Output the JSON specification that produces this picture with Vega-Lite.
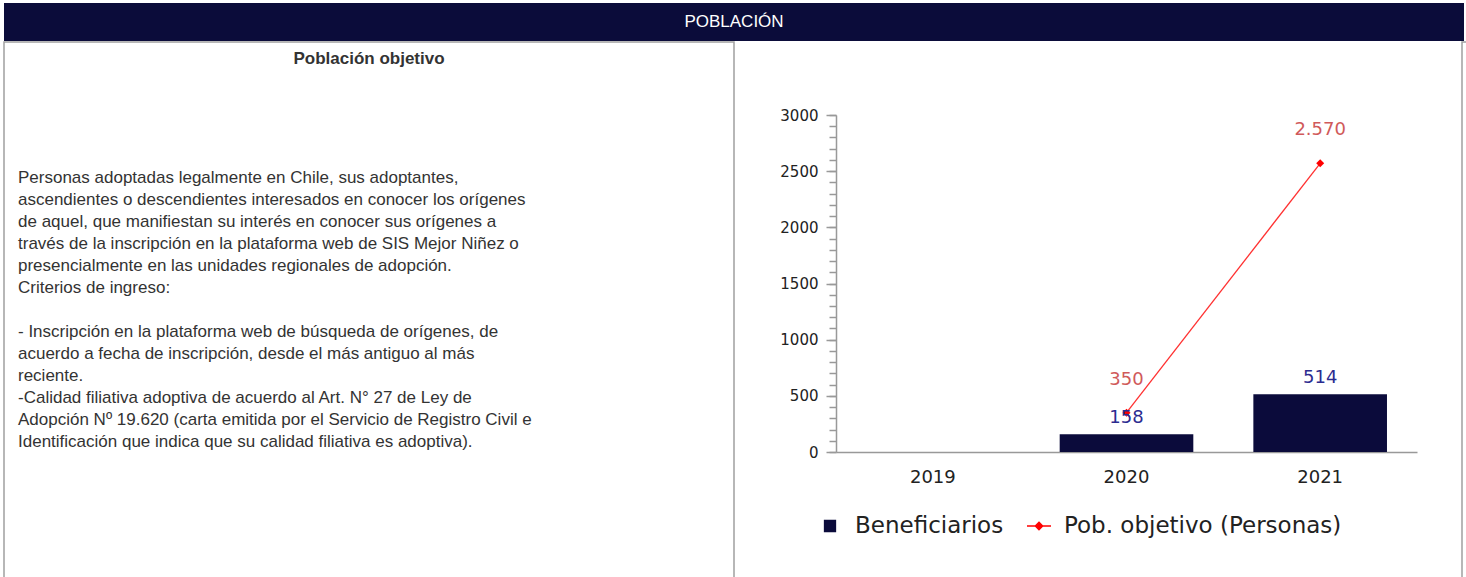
{
  "$schema": "https://vega.github.io/schema/vega-lite/v6.json",
  "padding": {"left": 3, "top": 3, "right": 3, "bottom": 0},
  "background": "white",
  "config": {
    "view": {"stroke": null},
    "font": "DejaVu Sans",
    "locale": {"number": {"decimal": ",", "thousands": ".", "grouping": [3], "currency": ["$", ""]}}
  },
  "datasets": {
    "cabecera": [{"t": "POBLACIÓN"}],
    "texto": [
      {"tipo": "titulo", "linea": 0, "t": "Población objetivo"},
      {"tipo": "cuerpo", "linea": 1, "t": "Personas adoptadas legalmente en Chile, sus adoptantes,"},
      {"tipo": "cuerpo", "linea": 2, "t": "ascendientes o descendientes interesados en conocer los orígenes"},
      {"tipo": "cuerpo", "linea": 3, "t": "de aquel, que manifiestan su interés en conocer sus orígenes a"},
      {"tipo": "cuerpo", "linea": 4, "t": "través de la inscripción en la plataforma web de SIS Mejor Niñez o"},
      {"tipo": "cuerpo", "linea": 5, "t": "presencialmente en las unidades regionales de adopción."},
      {"tipo": "cuerpo", "linea": 6, "t": "Criterios de ingreso:"},
      {"tipo": "cuerpo", "linea": 8, "t": "- Inscripción en la plataforma web de búsqueda de orígenes, de"},
      {"tipo": "cuerpo", "linea": 9, "t": "acuerdo a fecha de inscripción, desde el más antiguo al más"},
      {"tipo": "cuerpo", "linea": 10, "t": "reciente."},
      {"tipo": "cuerpo", "linea": 11, "t": "-Calidad filiativa adoptiva de acuerdo al Art. N° 27 de Ley de"},
      {"tipo": "cuerpo", "linea": 12, "t": "Adopción Nº 19.620 (carta emitida por el Servicio de Registro Civil e"},
      {"tipo": "cuerpo", "linea": 13, "t": "Identificación que indica que su calidad filiativa es adoptiva)."}
    ],
    "serie": [
      {"anio": "2020", "serie": "Beneficiarios", "valor": 158},
      {"anio": "2021", "serie": "Beneficiarios", "valor": 514},
      {"anio": "2020", "serie": "Pob. objetivo (Personas)", "valor": 350},
      {"anio": "2021", "serie": "Pob. objetivo (Personas)", "valor": 2570}
    ]
  },
  "spacing": 0,
  "resolve": {"scale": {"color": "independent"}},
  "vconcat": [
    {
      "width": 1460,
      "height": 38,
      "view": {"fill": "#0b0c3a", "stroke": null},
      "data": {"name": "cabecera"},
      "mark": {"type": "text", "font": "Liberation Sans", "fontSize": 17, "color": "#ffffff", "baseline": "middle", "align": "center"},
      "encoding": {"text": {"field": "t"}}
    },
    {
      "spacing": 44,
      "resolve": {"scale": {"color": "independent"}},
      "hconcat": [
        {
          "width": 730,
          "height": 540,
          "view": {"stroke": "#a0a0a0", "strokeWidth": 1.5},
          "data": {"name": "texto"},
          "layer": [
            {
              "transform": [{"filter": "datum.tipo === 'titulo'"}],
              "mark": {"type": "text", "font": "Liberation Sans", "fontSize": 17, "fontWeight": "bold", "color": "#333333", "baseline": "middle", "align": "center"},
              "encoding": {
                "y": {"field": "linea", "type": "quantitative", "scale": {"domain": [0, 1, 13], "range": [17, 136, 400]}, "axis": null},
                "text": {"field": "t"}
              }
            },
            {
              "transform": [{"filter": "datum.tipo === 'cuerpo'"}],
              "mark": {"type": "text", "font": "Liberation Sans", "fontSize": 17, "color": "#333333", "baseline": "middle", "align": "left"},
              "encoding": {
                "x": {"datum": 0, "type": "quantitative", "scale": {"domain": [0, 1], "range": [14, 716]}, "axis": null},
                "y": {"field": "linea", "type": "quantitative", "scale": {"domain": [0, 1, 13], "range": [17, 136, 400]}, "axis": null},
                "text": {"field": "t"}
              }
            }
          ]
        },
        {
          "spacing": 0,
          "resolve": {"scale": {"color": "independent"}},
          "vconcat": [
            {
              "width": 581,
              "height": 66,
              "data": {"values": []},
              "mark": "text"
            },
            {
              "width": 581,
              "height": 337,
              "data": {"name": "serie"},
              "resolve": {"axis": {"y": "independent"}},
              "layer": [
                {
                  "transform": [{"filter": "datum.serie === 'Beneficiarios'"}],
                  "mark": {"type": "bar"},
                  "encoding": {
                    "x": {"field": "anio", "type": "nominal", "scale": {"domain": ["2019", "2020", "2021"], "paddingInner": 0.31, "paddingOuter": 0.155},
                      "axis": {"title": null, "labelAngle": 0, "ticks": false, "labelFontSize": 18, "labelColor": "#222222", "labelPadding": 16, "domainColor": "#999999", "domainWidth": 1.5}},
                    "y": {"field": "valor", "type": "quantitative", "scale": {"domain": [0, 3000], "nice": false},
                      "axis": {"title": null, "orient": "left", "values": [0, 500, 1000, 1500, 2000, 2500, 3000], "format": "d", "tickSize": 10, "tickColor": "#999999", "tickWidth": 1.5, "domainColor": "#999999", "domainWidth": 1.5, "labelFontSize": 15, "labelColor": "#222222", "labelPadding": 8, "grid": false}},
                    "color": {"field": "serie", "type": "nominal",
                      "scale": {"domain": ["Beneficiarios", "Pob. objetivo (Personas)"], "range": ["#0b0b3b", "#ff0000"]},
                      "legend": {
                        "title": null, "orient": "none", "legendX": -19, "legendY": 398, "direction": "horizontal",
                        "labelFontSize": 23, "labelColor": "#222222", "labelLimit": 0, "symbolSize": 576, "labelOffset": 12, "columnPadding": 20, "padding": 0,
                        "encode": {"symbols": {"update": {
                          "shape": {"signal": "datum.value === 'Beneficiarios' ? 'M-0.45,-0.45H0.45V0.45H-0.45Z' : 'M-1,0H1M0,-0.3L0.3,0L0,0.3L-0.3,0Z'"},
                          "fill": {"signal": "datum.value === 'Beneficiarios' ? '#0b0b3b' : '#ff0000'"},
                          "stroke": {"signal": "datum.value === 'Beneficiarios' ? '#0b0b3b' : '#ff0000'"},
                          "strokeWidth": {"value": 1.5},
                          "opacity": {"value": 1}
                        }}}
                      }}
                  }
                },
                {
                  "transform": [{"filter": "datum.serie === 'Pob. objetivo (Personas)'"}],
                  "mark": {"type": "line", "strokeWidth": 1.3, "color": "#ff3030"},
                  "encoding": {
                    "x": {"field": "anio", "type": "nominal"},
                    "y": {"field": "valor", "type": "quantitative",
                      "axis": {"title": null, "orient": "left", "values": [0,100,200,300,400,500,600,700,800,900,1000,1100,1200,1300,1400,1500,1600,1700,1800,1900,2000,2100,2200,2300,2400,2500,2600,2700,2800,2900,3000], "labels": false, "domain": false, "tickSize": 7, "tickColor": "#999999", "tickWidth": 1.5, "grid": false}}
                  }
                },
                {
                  "transform": [{"filter": "datum.serie === 'Pob. objetivo (Personas)'"}],
                  "mark": {"type": "point", "shape": "diamond", "filled": true, "size": 64, "color": "#ff0000", "opacity": 1},
                  "encoding": {
                    "x": {"field": "anio", "type": "nominal"},
                    "y": {"field": "valor", "type": "quantitative", "axis": null}
                  }
                },
                {
                  "transform": [{"filter": "datum.serie === 'Beneficiarios'"}],
                  "mark": {"type": "text", "baseline": "bottom", "dy": -7, "fontSize": 18, "color": "#2b2b90"},
                  "encoding": {
                    "x": {"field": "anio", "type": "nominal"},
                    "y": {"field": "valor", "type": "quantitative", "axis": null},
                    "text": {"field": "valor", "type": "quantitative", "format": ",d"}
                  }
                },
                {
                  "transform": [{"filter": "datum.serie === 'Pob. objetivo (Personas)'"}],
                  "mark": {"type": "text", "baseline": "bottom", "dy": -24, "fontSize": 18, "color": "#d05a5a"},
                  "encoding": {
                    "x": {"field": "anio", "type": "nominal"},
                    "y": {"field": "valor", "type": "quantitative", "axis": null},
                    "text": {"field": "valor", "type": "quantitative", "format": ",d"}
                  }
                }
              ]
            }
          ]
        },
        {
          "width": 0,
          "height": 540,
          "view": {"stroke": "#a0a0a0", "strokeWidth": 1.5},
          "data": {"values": []},
          "mark": "text"
        }
      ]
    }
  ]
}
